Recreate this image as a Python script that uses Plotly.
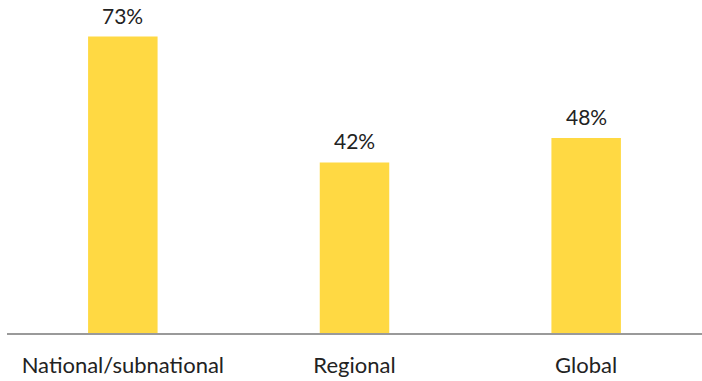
import plotly.graph_objects as go

categories = ["National/subnational", "Regional", "Global"]
values = [73, 42, 48]
labels = ["73%", "42%", "48%"]

fig = go.Figure(go.Bar(
    x=categories,
    y=values,
    marker=dict(color="#FFD943", line_width=0),
    hoverinfo="skip",
))

# value labels above each bar
for cat, val, lab in zip(categories, values, labels):
    fig.add_annotation(x=cat, y=val, text=lab, showarrow=False,
                       yanchor="bottom", yshift=7,
                       font=dict(size=21, color="#222222"))

fig.update_layout(
    width=702, height=381,
    margin=dict(l=7, r=0, t=0, b=48, autoexpand=False),
    paper_bgcolor="white",
    plot_bgcolor="white",
    bargap=0.7,
    showlegend=False,
    font=dict(family="Lato, sans-serif", size=22, color="#222222"),
    xaxis=dict(showline=True, linecolor="#9a9a9a", linewidth=2, automargin=False,
               ticks="", ticklabelstandoff=12, tickfont=dict(size=22, color="#222222")),
    yaxis=dict(range=[0, 82], visible=False, showgrid=False, zeroline=False,
               automargin=False),
)

fig.write_html(
    "out.html",
    config={"displayModeBar": False},
    post_script=("document.body.style.margin='0';"
                 "document.body.style.overflow='hidden';"
                 "Plotly.Plots.resize(document.getElementById('{plot_id}'));"),
)
